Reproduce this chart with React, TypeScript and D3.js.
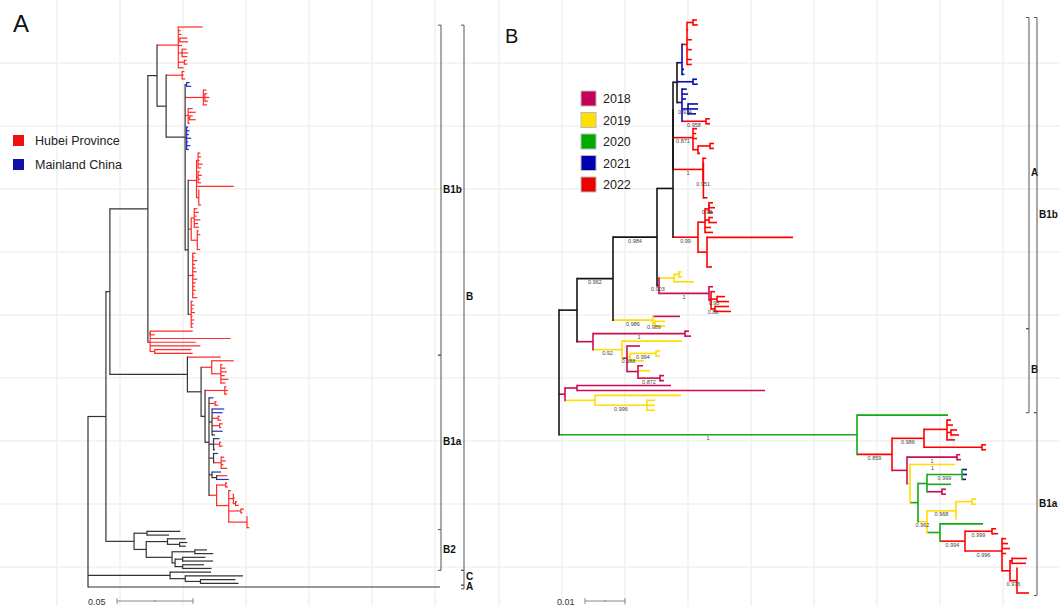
import React, { useMemo } from "react";
import * as d3 from "d3";

// Branch lengths are written in units of 0.001 substitutions / site.
// Node label syntax: colour code, "@support", "#name"  e.g. (..)r@0.99#X:6.25
const UNIT = 0.001;

// ---------- panel A ----------
const cladeB1b = `((
 (:16,:1.5,:2,(:5,:5.5):1,:2.5,(:3,:4,:3.5):2.5,(:1.5,:2):4,:3.5)r:14,
 ((:1.5,:1,:2)r:10.5,
  ((:2,:3)b:1,
   (:2,(:1.5,:3,:2):1,:2.5)r:12,
   (:3,:5,(:2,:4):1,:1)r:2,
   (:1,:2,:1.5,:3,:1,:2.5,:1.5)b:1,
   (((:1.5,:2,:1,:3,:2):1,(:1,:2.5,:1.5,:2):1,:24.5,(:0,:0,:0,:0,:1.5):1.5)r:5.5,
    ((:2,:3,:1.5,:4,:2.5,:3):2,(:1,:2,:0,:0,:0,:2):4)r:2,
    (:2,:1,:3,:1.5,:2,:2.5,:1,:3,:2,:1.5,:2,:1,:3)r:3,
    (:1,:2,:1.5,:2.5,:1,:2,:1.5,:1)r:2):2
  ):12.5
 ):6
):6,
((:28,:3),:53,:30,:33,(:24,:25):3)r:1.5
)#B1b:25`;

const cladeB1a = `(r:22,
 ((:14.5,(:1,:3,:4,:2.5,:5,:3):6)r:7,
  ((:1,:2,:1.5)r:13,
   (b:3,(:1,:2)r:4,
    (b:8,b:7,(:1,:2)r:4,(:2,:1)r:5,b:7,:2):2,
    (b:4,(:1,:2)r:4,:1):3,
    (b:3,(:2,:3,:1.5,:4)r:5):3,
    (b:6,(r:7,b:8):3):2,
    ((:1,:1.5):6,(:1.5,(:0.5,:1,(:1,:2):1.5):3,(:2,:1):8,(:0,:0,:0,:1.5):12):8)r:5
   ):2.6
  ):2.6
 ):9
)#B1a:51`;

const cladeB2 = `((:22,:14.5):8.5,((:12,(:5,:4):8):14,((:8,:12):15,((:15,:20):5,(:14,:19):5):2):17):8)#B2:18.5`;
const cladeC = `(:27,(:38,(:23,:25):10):10)#C:54`;
const leafA = `#A:231.6`;
const treeA = `(((${cladeB1b},${cladeB1a}):2.6,${cladeB2}):11.8,${cladeC},${leafA})`;

const coloursA: Record<string, string> = { k: "#333333", r: "#ff2a2a", b: "#2233bb" };
const legendA = ["Hubei Province", "Mainland China"];
const legendAColours = ["#ee1111", "#1111aa"];
const scaleBarA = 0.05;
const bracketsA = [
  { label: "B1b", first: "B1b", last: "B1b", col: 0 },
  { label: "B1a", first: "B1a", last: "B1a", col: 0 },
  { label: "B2", first: "B2", last: "B2", col: 0 },
  { label: "B", first: "B1b", last: "B2", col: 1 },
  { label: "C", first: "C", last: "C", col: 1 },
  { label: "A", first: "A", last: "A", col: 1 },
];

// ---------- panel B ----------
const cladeBA = `(
 (
  (
   (
    (
     (((:1,:1.2):1.5,:0.3,:0,:1.2,:0,:1.2,:0,:1.2,:1.2)r:1.25,:0.5,:0.6)b:1.25,
     (:1,:1.2)b:4,
     (:1.2,:1.5,:1,(:2.5,:2.5,:2)@0.934:1.5,(:1,:1)r@0.958:6)b:1.25
    ):1,
    (:1,:0.8,:1,((:1,:1):3,:0.5):1.25)r@0.871:5
   ):0,
   (:0.8,(:0,:0,:0,:0,:0,:0,:0,:1)@0.951:0.1)r@1:7.5
  ):0,
  ((((:1,:1.5),:1)@0.98:1,(:1,:2):1,:1.5,:2):1.75,(:21.5,:0,:0,:0,:0,:0,:1.25):2.25)r@0.99:6.25
 ):4,
 (((:0.6,:0.8):1.25,:5)y:3.75,(m:1,(:1,(:2,:3)@0.98:1.5,(:3.5,:4)@0.81:1)r:0.5)m@1:12.5)m@0.903:0.5
)@0.984:11`;
const cladeBA2 = `(${cladeBA},(m:6.75,(:2.5,:2.5)@0.989:0.5)y@0.986:10)@0.962#Aclade:9`;
const cladeBc1 = `((:1,:1.5)m@1:23,(y:15,(m:3.25,((:1,:1)@0.994:6.5,:3.5)y@0.988:0.75,(m:1.25,y:3,(:1,:1)m@0.872:5.5)m:2.75)m:1.25)y@0.92:7.25)m#Bc1:4`;
const cladeBc2 = `((:23.5,:47)m:3,(:21.5,(:2,:2,:2)@0.996:13)y:7.5)m#Bc2:1.5`;
const cladeB1aB = `(g:22.75,
 (
  ((:1,:1.5,(:1.5,:2):1,:2)r:5.75,(:1,:1)r:14.5)r@0.986:8,
  ((:0.8,:1)m@1:12.5,
   (y@1:11.25,
    (
     ((b:1.25,b:1.25,b:1)g@0.999:8.75,g:6,(:1,:1)m:3.75)g:2.25,
     (
      ((:1,:1):4,:0,:0.3,:0)y@0.968:7.25,
      (g:10.75,
       ((:1,:1.5)r@0.999:6.75,
        (:1,:1.5,:2,:1,((:3.75,:3.5):0.5,(:0,:0,:0,:0,:0,:3)@0.976:1.75):2)r@0.996:9.25
       )r@0.994:6.25
      )g:3.25
     )y@0.962:2.25
    )g:2
   )y:0.75
  )m:3.75
 )r@0.859:8.75
)g@1#B1aB:74.5`;
const treeB = `((${cladeBA2},${cladeBc1}):4.5,${cladeBc2},${cladeB1aB})`;

const coloursB: Record<string, string> = {
  k: "#141414", r: "#ff0000", m: "#cc0c55", y: "#ffdd00", g: "#14a814", b: "#0a0ab0",
};
const legendBYears = ["2018", "2019", "2020", "2021", "2022"];
const legendBColours = ["#c4005a", "#ffe000", "#00aa00", "#0000b0", "#ee0000"];
const scaleBarB = 0.01;
const bracketsB = [
  { label: "A", first: "Aclade", last: "Aclade", col: 0 },
  { label: "B", first: "Bc1", last: "Bc2", col: 0 },
  { label: "B1b", first: "Aclade", last: "Bc2", col: 1 },
  { label: "B1a", first: "B1aB", last: "B1aB", col: 1 },
];

// ---------- tree parsing / layout ----------
type PNode = { children: PNode[]; len: number; col?: string; sup?: string; name?: string };

function parseNewick(src: string): PNode {
  const s = src.replace(/\s+/g, "");
  let i = 0;
  const readNode = (): PNode => {
    const node: PNode = { children: [], len: 0 };
    if (s[i] === "(") {
      i++;
      node.children.push(readNode());
      while (s[i] === ",") {
        i++;
        node.children.push(readNode());
      }
      i++;
    }
    let label = "";
    while (i < s.length && !",():;".includes(s[i])) label += s[i++];
    if (s[i] === ":") {
      i++;
      let num = "";
      while (i < s.length && !",();".includes(s[i])) num += s[i++];
      node.len = parseFloat(num);
    }
    const [rest, name] = label.split("#");
    const [col, sup] = rest.split("@");
    if (col) node.col = col;
    if (sup) node.sup = sup;
    if (name) node.name = name;
    return node;
  };
  return readNode();
}

const FONT = "Liberation Sans, Arial, sans-serif";

function TreePanel({ newick, palette, x, yTop, yBottom, width, brackets, bracketX, showSupport }: any) {
  const root: any = useMemo(() => {
    const h: any = d3.hierarchy(parseNewick(newick), (d: PNode) => (d.children.length ? d.children : null));
    h.eachBefore((n: any) => {
      n.dist = n.parent ? n.parent.dist + n.data.len : 0;
      n.col = n.data.col ?? (n.parent ? n.parent.col : "k");
    });
    const leaves = h.leaves();
    const y = d3.scaleLinear().domain([0, leaves.length - 1]).range([yTop, yBottom]);
    leaves.forEach((l: any, i: number) => (l.y = y(i)));
    h.eachAfter((n: any) => {
      if (n.children) n.y = d3.mean(n.children, (c: any) => c.y);
    });
    h.step = y(1) - y(0);
    return h;
  }, [newick, yTop, yBottom]);

  const nodes: any[] = root.descendants();
  const colour = (c: string) => palette[c] ?? palette.k;
  const order = (a: any, b: any) => (a.col === "k" ? 1 : 0) - (b.col === "k" ? 1 : 0);

  const horizontals = nodes
    .filter((n) => n.parent && n.dist > n.parent.dist)
    .sort(order)
    .map((n, i) => {
      const p = d3.path();
      p.moveTo(x(n.parent.dist), n.y);
      p.lineTo(x(n.dist), n.y);
      return <path key={"h" + i} d={p.toString()} stroke={colour(n.col)} strokeWidth={width} fill="none" />;
    });

  const verticals = nodes
    .filter((n) => n.children)
    .sort(order)
    .map((n, i) => {
      const ys = n.children.map((c: any) => c.y);
      const p = d3.path();
      p.moveTo(x(n.dist), d3.min(ys) as number);
      p.lineTo(x(n.dist), d3.max(ys) as number);
      return (
        <path key={"v" + i} d={p.toString()} stroke={colour(n.col)} strokeWidth={width}
          strokeLinecap="square" fill="none" />
      );
    });

  const supports = showSupport
    ? nodes
        .filter((n) => n.parent && n.data.sup)
        .map((n, i) => (
          <text key={"s" + i} x={(x(n.parent.dist) + x(n.dist)) / 2} y={n.y + 5.5}
            fontSize={5.5} fill="#444" textAnchor="middle" fontFamily={FONT}>
            {n.data.sup}
          </text>
        ))
    : null;

  const byName = (name: string) => nodes.find((n) => n.data.name === name);
  const half = root.step / 2;
  const bracketEls = brackets.map((b: any, i: number) => {
    const y1 = (d3.min(byName(b.first).leaves(), (l: any) => l.y) as number) - half;
    const y2 = (d3.max(byName(b.last).leaves(), (l: any) => l.y) as number) + half;
    const bx = bracketX[b.col];
    return (
      <g key={"b" + i} stroke="#555" strokeWidth={1}>
        <line x1={bx} x2={bx} y1={y1} y2={y2} />
        <line x1={bx - 3} x2={bx} y1={y1} y2={y1} />
        <line x1={bx - 3} x2={bx} y1={y2} y2={y2} />
        <text x={bx + 2} y={(y1 + y2) / 2} dominantBaseline="middle" stroke="none" fill="#111"
          fontSize={10} fontWeight="bold" fontFamily={FONT}>
          {b.label}
        </text>
      </g>
    );
  });

  return (
    <g>
      {horizontals}
      {verticals}
      {supports}
      {bracketEls}
    </g>
  );
}

function ScaleBar({ x, value, y, labelX }: any) {
  const x0 = x(0);
  const x1 = x(value / UNIT);
  return (
    <g>
      <text x={labelX} y={y + 3.5} fontSize={9} fill="#333" fontFamily={FONT}>{String(value)}</text>
      <g stroke="#888" strokeWidth={1}>
        <line x1={x0} x2={x1} y1={y} y2={y} />
        <line x1={x0} x2={x0} y1={y - 3} y2={y + 3} />
        <line x1={x1} x2={x1} y1={y - 3} y2={y + 3} />
        <line x1={(x0 + x1) / 2} x2={(x0 + x1) / 2} y1={y - 1} y2={y + 1} />
      </g>
    </g>
  );
}

export default function App() {
  const W = 1060;
  const H = 606;
  // 0.05 -> 76 px in panel A, 0.01 -> 40 px in panel B
  const xA = d3.scaleLinear().domain([0, scaleBarA / UNIT]).range([88, 164]);
  const xB = d3.scaleLinear().domain([0, scaleBarB / UNIT]).range([559, 599]);
  const gridX = [...d3.range(57, 490, 63), ...d3.range(499, W, 63)];
  const gridY = d3.range(63, H, 63);

  return (
    <svg width={W} height={H} style={{ position: "absolute", left: 0, top: 0, background: "#fff" }}>
      <rect width={W} height={H} fill="#fff" />
      <g stroke="#f1f1f1" strokeWidth={1.5}>
        {gridX.map((gx) => <line key={"gx" + gx} x1={gx} x2={gx} y1={0} y2={H} />)}
        {gridY.map((gy) => <line key={"gy" + gy} x1={0} x2={W} y1={gy} y2={gy} />)}
      </g>

      {/* panel A */}
      <text x={13} y={32} fontSize={24} fontFamily={FONT} fill="#111">A</text>
      {legendA.map((t, i) => (
        <g key={t}>
          <rect x={13} y={135 + i * 24} width={11} height={11} fill={legendAColours[i]} />
          <text x={35} y={145 + i * 24} fontSize={12.5} fontFamily={FONT} fill="#222">{t}</text>
        </g>
      ))}
      <TreePanel newick={treeA} palette={coloursA} x={xA} yTop={27} yBottom={587} width={1.2}
        brackets={bracketsA} bracketX={[441, 464]} showSupport={false} />
      <ScaleBar x={xA.copy().range([117, 193])} value={scaleBarA} y={601} labelX={88} />

      {/* panel B */}
      <text x={505} y={43} fontSize={20} fontFamily={FONT} fill="#111">B</text>
      {legendBYears.map((t, i) => (
        <g key={t}>
          <rect x={581} y={91 + i * 21.5} width={15} height={15} fill={legendBColours[i]} stroke="#bbb" strokeWidth={1} />
          <text x={603} y={103 + i * 21.5} fontSize={12.5} fontFamily={FONT} fill="#222">{t}</text>
        </g>
      ))}
      <TreePanel newick={treeB} palette={coloursB} x={xB} yTop={20} yBottom={593} width={1.6}
        brackets={bracketsB} bracketX={[1029, 1037]} showSupport={true} />
      <ScaleBar x={xB.copy().range([585, 625])} value={scaleBarB} y={601} labelX={557} />
    </svg>
  );
}
